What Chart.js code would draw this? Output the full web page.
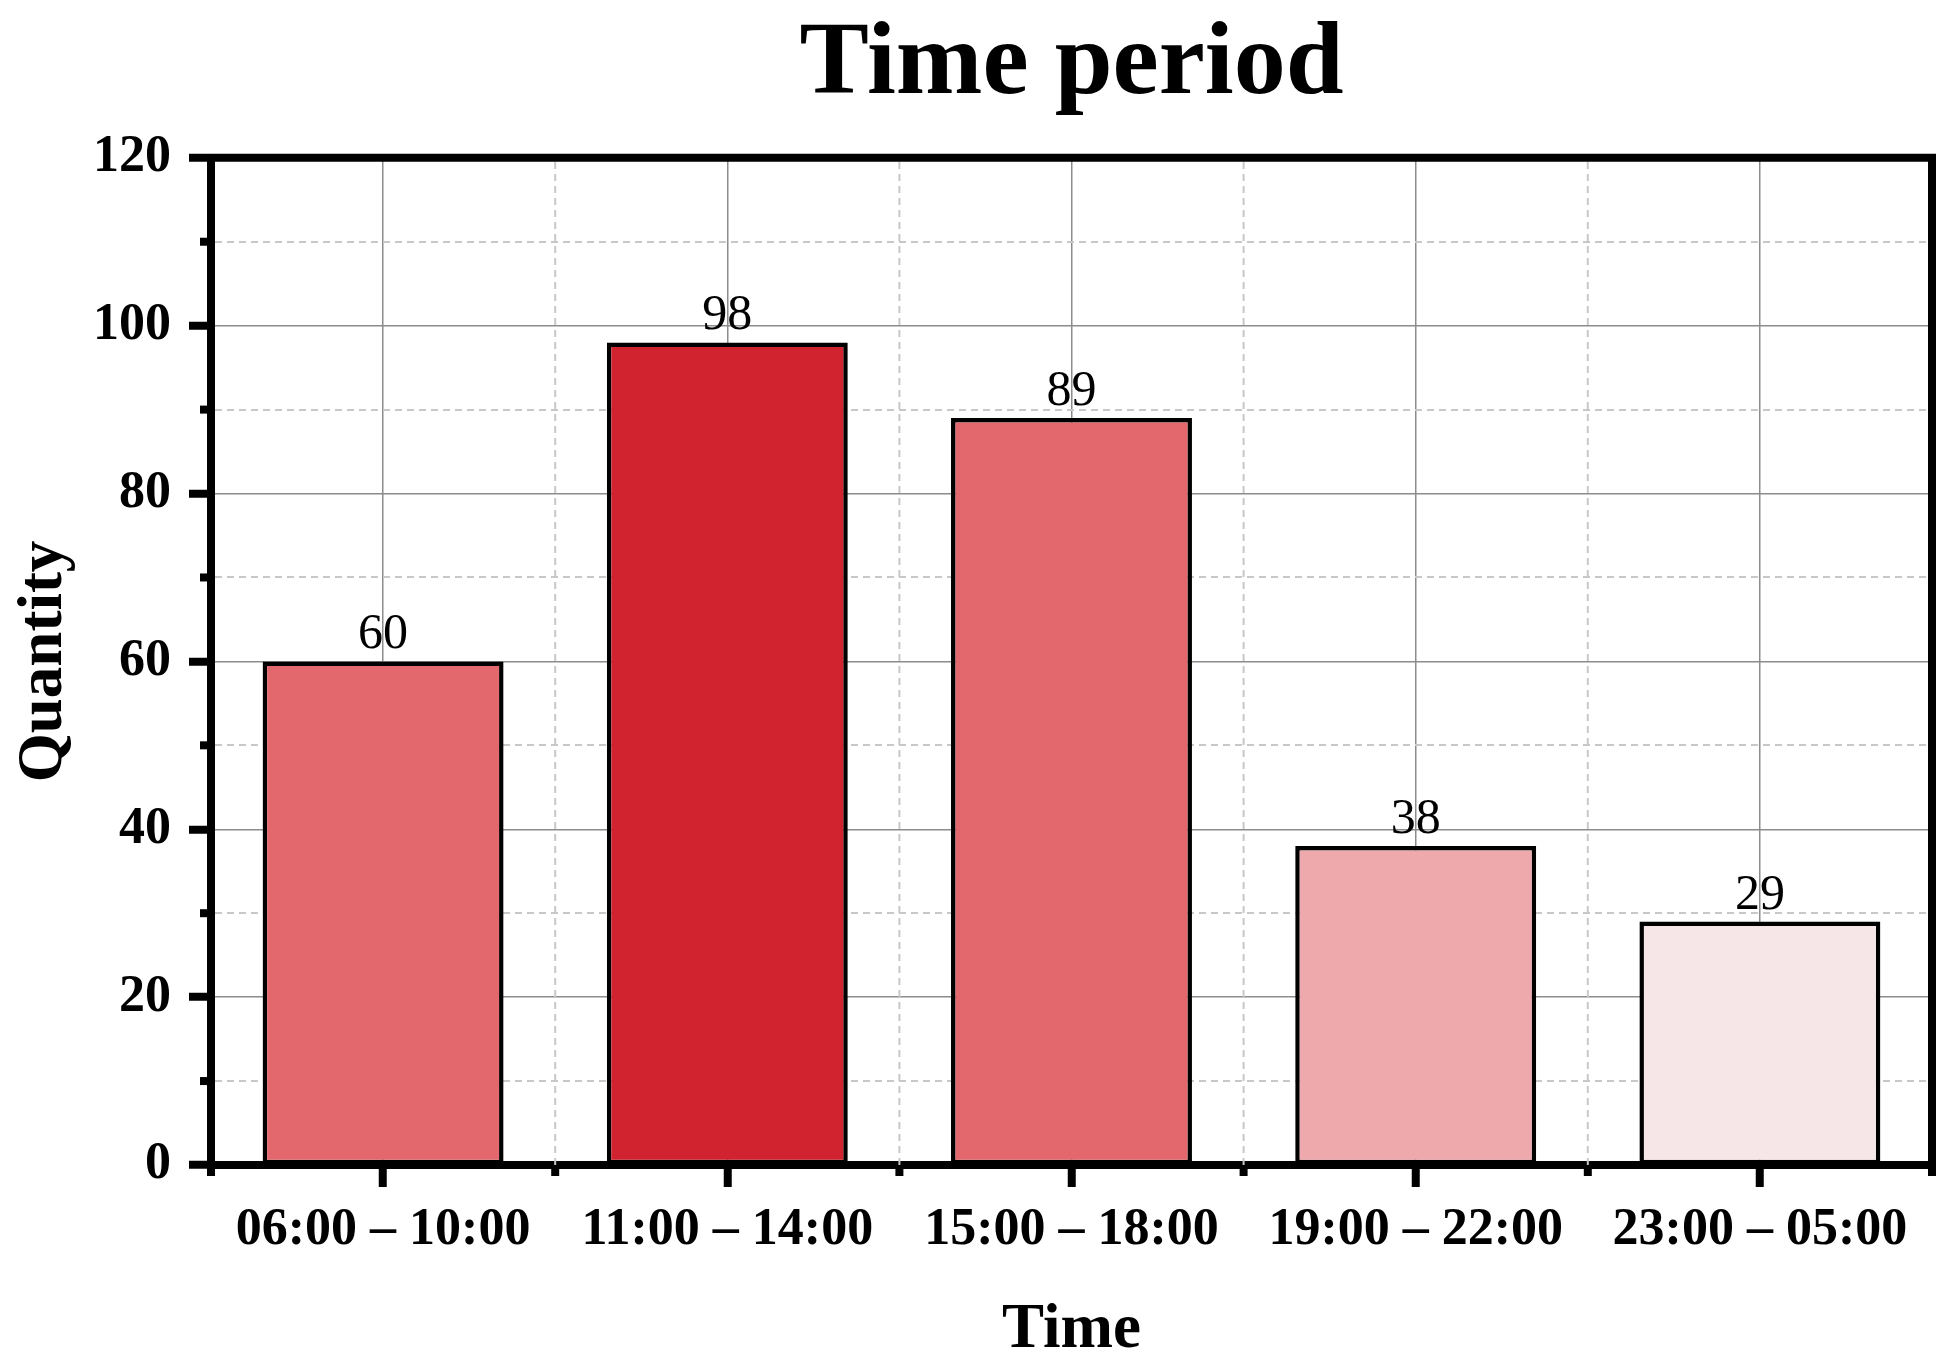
<!DOCTYPE html>
<html>
<head>
<meta charset="utf-8">
<title>Time period</title>
<script src="https://cdn.jsdelivr.net/npm/chart.js@4.4.1/dist/chart.umd.min.js"></script>
<style>
  html, body { margin: 0; padding: 0; background: #fff; }
  #wrap { width: 1948px; height: 1370px; }
</style>
</head>
<body>
<div id="wrap"><canvas id="chartCanvas"></canvas></div>
<script>
const categories = ['06:00 – 10:00', '11:00 – 14:00', '15:00 – 18:00', '19:00 – 22:00', '23:00 – 05:00'];
const quantities = [60, 98, 89, 38, 29];
const barColors = ['#e3686e', '#d0232f', '#e3686e', '#eea9ac', '#f6e6e7'];
const yMin = 0;
const yMax = 120;
const yStep = 10;
const yLabelStep = 20;

const serif = 'Liberation Serif';
const majorGrid = '#8c8c8c';
const minorGrid = '#c8c8c8';
const dash = [7, 5];
const isMinor = c => c.tick !== undefined && c.tick.value % yLabelStep !== 0;

// dashed lines between bars, value labels, minor ticks and the closing frame
const frame = {
  id: 'frame',
  beforeDatasetsDraw(chart) {
    const {ctx, chartArea: a, scales: {x}} = chart;
    const half = (x.getPixelForValue(1) - x.getPixelForValue(0)) / 2;
    ctx.save();
    ctx.strokeStyle = minorGrid;
    ctx.lineWidth = 2;
    ctx.setLineDash(dash);
    for (let i = 1; i < categories.length; i++) {
      const px = x.getPixelForValue(i) - half;
      ctx.beginPath();
      ctx.moveTo(px, a.bottom);
      ctx.lineTo(px, a.top);
      ctx.stroke();
    }
    ctx.restore();
  },
  afterDatasetsDraw(chart) {
    const {ctx} = chart;
    const meta = chart.getDatasetMeta(0);
    ctx.save();
    ctx.fillStyle = '#000';
    ctx.font = '50px "' + serif + '"';
    ctx.textAlign = 'center';
    ctx.textBaseline = 'alphabetic';
    meta.data.forEach((bar, i) => {
      ctx.fillText(String(quantities[i]), bar.x, bar.y - 13);
    });
    ctx.restore();
  },
  afterDraw(chart) {
    const {ctx, chartArea: a, scales: {x, y}} = chart;
    ctx.save();
    ctx.strokeStyle = '#000';
    // top + right border
    ctx.lineWidth = 8;
    ctx.beginPath();
    ctx.moveTo(a.left - 4, a.top);
    ctx.lineTo(a.right, a.top);
    ctx.lineTo(a.right, a.bottom + 4);
    ctx.stroke();
    // minor ticks
    for (let v = yMin + yStep; v < yMax; v += yLabelStep) {
      const py = y.getPixelForValue(v);
      ctx.beginPath();
      ctx.moveTo(a.left - 11, py);
      ctx.lineTo(a.left, py);
      ctx.stroke();
    }
    const half = (x.getPixelForValue(1) - x.getPixelForValue(0)) / 2;
    for (let i = 0; i <= categories.length; i++) {
      const px = x.getPixelForValue(0) - half + i * 2 * half;
      ctx.beginPath();
      ctx.moveTo(px, a.bottom);
      ctx.lineTo(px, a.bottom + 11);
      ctx.stroke();
    }
    ctx.restore();
  }
};

const ctx = document.getElementById('chartCanvas').getContext('2d');
const chart = new Chart(ctx, {
  type: 'bar',
  data: {
    labels: categories,
    datasets: [{
      label: 'Quantity',
      data: quantities,
      backgroundColor: barColors,
      borderColor: '#000',
      borderWidth: 4.5,
      borderSkipped: false,
      categoryPercentage: 0.7,
      barPercentage: 1
    }]
  },
  options: {
    responsive: true,
    maintainAspectRatio: false,
    animation: false,
    layout: { padding: { left: 0, right: 16, top: 0, bottom: 0 } },
    plugins: {
      legend: { display: false },
      tooltip: { enabled: false },
      title: {
        display: true,
        text: 'Time period',
        fullSize: false,
        color: '#000',
        font: { family: serif, size: 104, weight: 'bold' },
        padding: { top: 4, bottom: 29 }
      }
    },
    scales: {
      x: {
        afterFit(s) { s.height = 205; },
        grid: { offset: false, color: majorGrid, lineWidth: 1.5, tickColor: '#000', tickWidth: 8, tickLength: 22 },
        border: { color: '#000', width: 8 },
        ticks: {
          color: '#000',
          font: { family: serif, size: 52, weight: 'bold' },
          padding: 12,
          maxRotation: 0,
          autoSkip: false
        },
        title: {
          display: true,
          text: 'Time',
          color: '#000',
          font: { family: serif, size: 63, weight: 'bold' },
          padding: { top: 0, bottom: 1 }
        }
      },
      y: {
        min: yMin,
        max: yMax,
        afterFit(s) { s.width = 211; },
        grid: {
          color: c => isMinor(c) ? minorGrid : majorGrid,
          lineWidth: c => isMinor(c) ? 2 : 1.5,
          tickColor: c => isMinor(c) ? 'rgba(0,0,0,0)' : '#000',
          tickWidth: 8,
          tickLength: 22
        },
        border: { color: '#000', width: 8, dash: c => isMinor(c) ? dash : [] },
        ticks: {
          stepSize: yStep,
          autoSkip: false,
          color: '#000',
          font: { family: serif, size: 52, weight: 'bold' },
          padding: 18,
          callback: v => v % yLabelStep ? '' : v
        },
        title: {
          display: true,
          text: 'Quantity',
          color: '#000',
          font: { family: serif, size: 63, weight: 'bold' },
          padding: { top: 7, bottom: 0 }
        }
      }
    }
  },
  plugins: [frame]
});
</script>
</body>
</html>
